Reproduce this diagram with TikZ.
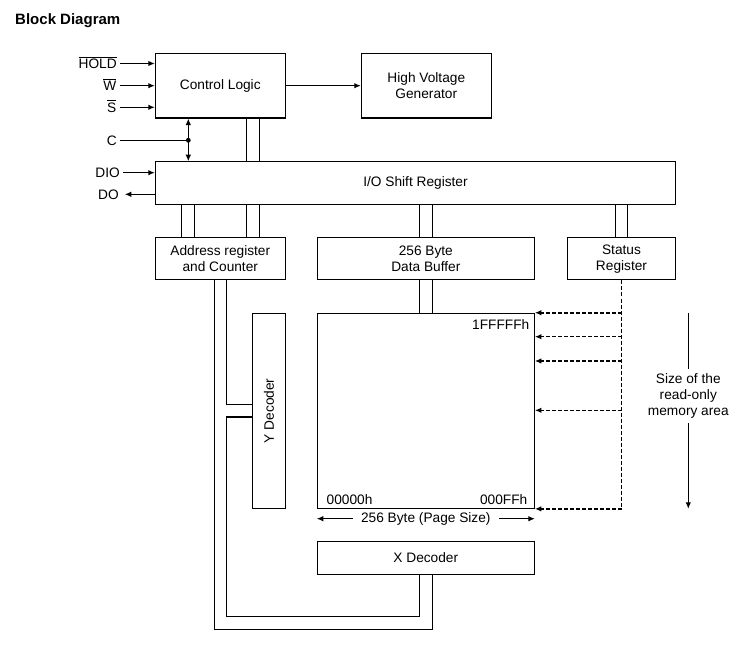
\documentclass[tikz,border=0pt]{standalone}
\usepackage{amsmath}
\usepackage{fontspec}
\setmainfont{Liberation Sans}
\usepackage {tikz}
\usetikzlibrary {positioning}
\usetikzlibrary{arrows.meta}
\tikzset{edge/.style = {->,> = {Latex[length=6.5pt,width=5.5pt]}}}
\tikzset{dashline/.style = {dash pattern=on 4pt off 2pt,line width=1.5pt}}

\begin{document}
\begin{tikzpicture}[x=1pt,y=-1pt,line width=1.1pt,font=\fontsize{13.7}{16.3}\selectfont,
    block/.style={draw,align=center,inner sep=0pt},
    sig/.style={anchor=east,inner xsep=2.7pt,inner ysep=0pt,text height=9.8pt,text depth=0pt}]
            \useasboundingbox (0,0) rectangle (750,647);
            \node[anchor=base west,inner sep=0pt,font=\fontsize{15}{18}\selectfont\bfseries] (title) at (14.7,25) {Block Diagram};
            % blocks
            \node[block,minimum width=130pt,minimum height=64.7pt] (ctrl) at (220.3,85.7) {Control Logic};
            \node[block,minimum width=130pt,minimum height=64.7pt] (hv) at (426.3,85.7) {High Voltage\\Generator};
            \node[block,minimum width=520.4pt,minimum height=42.5pt] (io) at (415.5,183) {I/O Shift Register};
            \node[block,minimum width=130pt,minimum height=42.3pt] (addr) at (220.3,258.8) {Address register\\and Counter};
            \node[block,minimum width=217pt,minimum height=42.3pt] (buf) at (425.8,258.8) {256 Byte\\Data Buffer};
            \node[block,minimum width=108.4pt,minimum height=42.3pt] (status) at (621.5,258.8) {Status\\Register};
            \node[block,minimum width=217pt,minimum height=195pt] (mem) at (425.8,410.8) {};
            \node[block,minimum width=33.4pt,minimum height=195pt] (ydec) at (269,410.8) {};
            \node[rotate=90] (ytext) at (ydec) {Y Decoder};
            \node[block,minimum width=217pt,minimum height=32.7pt] (xdec) at (425.8,557.7) {X Decoder};
            \node[anchor=north east,inner sep=0pt] (top) at ([xshift=-5pt,yshift=-6.5pt]mem.north east) {1FFFFFh};
            \node[anchor=base west,inner sep=0pt] (low) at ([xshift=9.4pt,yshift=4.3pt]mem.south west) {00000h};
            \node[anchor=base east,inner sep=0pt] (page end) at ([xshift=-7pt,yshift=4.3pt]mem.south east) {000FFh};
            % pins
            \node[sig] (hold) at (120,63.5) {$\overline{\mbox{HOLD}}$};
            \node[sig] (w) at (119.5,85.7) {$\overline{\mbox{W}}$};
            \node[sig] (s) at (119.5,107.3) {$\overline{\mbox{S}}$};
            \node[sig] (c) at (120,140.3) {C};
            \node[sig] (dio) at (123,172.7) {DIO};
            \node[sig,inner xsep=5.5pt] (dout) at (124.8,194.3) {DO};
            \coordinate (cdot) at (188.3,140.3);
            \draw[edge] (hold) -- (hold -| ctrl.west);
            \draw[edge] (w) -- (w -| ctrl.west);
            \draw[edge] (s) -- (s -| ctrl.west);
            \draw (c) -- (cdot);
            \fill (cdot) circle (2.4pt);
            \draw[edge,<->] (cdot |- ctrl.south) -- (cdot |- io.north);
            \draw[edge] (dio) -- (dio -| io.west);
            \draw[edge] (dout -| io.west) -- (dout);
            \draw[edge] (ctrl) -- (hv);
            % buses
            \draw (246.7,0 |- ctrl.south) -- (246.7,0 |- io.north);
            \draw (259.3,0 |- ctrl.south) -- (259.3,0 |- io.north);
            \draw (181.7,0 |- io.south) -- (181.7,0 |- addr.north);
            \draw (194.3,0 |- io.south) -- (194.3,0 |- addr.north);
            \draw (246.7,0 |- io.south) -- (246.7,0 |- addr.north);
            \draw (259.3,0 |- io.south) -- (259.3,0 |- addr.north);
            \coordinate (bl) at ([xshift=-6.3pt]buf.north);
            \coordinate (br) at ([xshift=6.3pt]buf.north);
            \draw (bl |- io.south) -- (bl);
            \draw (br |- io.south) -- (br);
            \draw (bl |- buf.south) -- (bl |- mem.north);
            \draw (br |- buf.south) -- (br |- mem.north);
            \coordinate (sl) at ([xshift=-6.3pt]status.north);
            \coordinate (sr) at ([xshift=6.3pt]status.north);
            \draw (sl |- io.south) -- (sl);
            \draw (sr |- io.south) -- (sr);
            % decoders
            \coordinate (al) at ([xshift=-5.8pt]addr.south);
            \coordinate (ar) at ([xshift=6.3pt]addr.south);
            \coordinate (xl) at ([xshift=-6.3pt]xdec.south);
            \coordinate (xr) at ([xshift=6.3pt]xdec.south);
            \draw (ar) |- (ydec.west |- 0,404.3);
            \draw (ydec.west |- 0,417) -| (ar |- 0,616.3) -| (xl);
            \draw (al) |- (xr |- 0,629.5) -- (xr);
            % read-only area
            \draw[dashline] (status.south) -- (status.south |- mem.south);
            \draw[edge,dashline] (status.south |- mem.north) -- (mem.north east);
            \draw[edge,dashline] (status.south |- 0,336.7) -- (mem.east |- 0,336.7);
            \draw[edge,dashline] (status.south |- 0,361) -- (mem.east |- 0,361);
            \draw[edge,dashline] (status.south |- 0,410.3) -- (mem.east |- 0,410.3);
            \draw[edge,dashline] (status.south |- mem.south) -- (mem.south east);
            \node[align=center,inner ysep=4pt] (size) at (688.3,395.8) {Size of the\\read-only\\memory area};
            \draw (size.north |- mem.north) -- (size);
            \draw[edge] (size) -- (size.south |- mem.south);
            \node[inner xsep=8pt,inner ysep=0pt] (page) at (425.8,518.7) {256 Byte (Page Size)};
            \draw[edge] (page) -- (page -| mem.west);
            \draw[edge] (page) -- (page -| mem.east);
        \end{tikzpicture}
\end{document}
